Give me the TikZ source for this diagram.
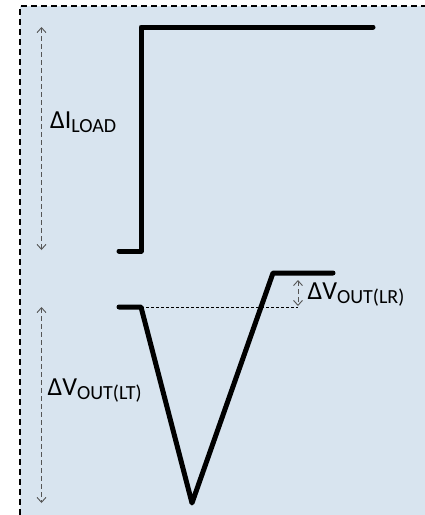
\documentclass[tikz,border=0pt]{standalone}
\usepackage{fontspec}
\setmainfont{Carlito}
\usetikzlibrary{arrows.meta}
\definecolor{panel}{RGB}{216,228,239}
\definecolor{dimgray}{RGB}{85,85,85}
\newcommand\subtxt[1]{\raisebox{-4pt}{\fontsize{20}{22}\selectfont #1}}
\begin{document}
\begin{tikzpicture}[x=1pt,y=-1pt,
  wave/.style={line width=5pt,line cap=round,line join=round},
  dimline/.style={dimgray,line width=0.9pt,dash pattern=on 5pt off 3pt,
    {Straight Barb[length=5pt,width=9pt]}-{Straight Barb[length=5pt,width=9pt]}},
  refline/.style={black,line width=0.8pt,dash pattern=on 3pt off 2pt},
  lbl/.style={inner sep=0pt,anchor=base west,font=\fontsize{26}{30}\selectfont}]
\useasboundingbox (0,0) rectangle (425,515);
\fill[panel] (20,6) rectangle (425,515);
\draw[line width=2.2pt,dash pattern=on 6pt off 4pt] (20,515) -- (20,6) -- (425,6);
% load current step
\coordinate (a1) at (119,251);
\coordinate (a2) at (141,251);
\coordinate (a3) at (141,27);
\coordinate (a4) at (373,27);
\draw[wave] (a1) -- (a2) -- (a3) -- (a4);
% output voltage
\coordinate (b1) at (119,307);
\coordinate (b2) at (141,307);
\coordinate (b3) at (192,503);
\coordinate (b4) at (273,273);
\coordinate (b5) at (333,273);
\draw[wave] (b1) -- (b2) -- (b3) -- (b4) -- (b5);
\coordinate (r) at (298,307);
\draw[refline] (b2) -- (r);
% dimension arrows
\coordinate (d1t) at (41.5,27);
\coordinate (d1b) at (41.5,250);
\coordinate (d2t) at (41.5,307);
\coordinate (d2b) at (41.5,503);
\coordinate (d3t) at (298,280);
\coordinate (d3b) at (298,306);
\draw[dimline] (d1t) -- (d1b);
\draw[dimline] (d2t) -- (d2b);
\draw[dimline] (d3t) -- (d3b);
% labels
\node[lbl] (lload) at (50,128) {ΔI\subtxt{LOAD}};
\node[lbl] (llt) at (47.5,395) {ΔV\subtxt{OUT(LT)}};
\node[lbl] (llr) at (307.5,299) {ΔV\subtxt{OUT(LR)}};
\end{tikzpicture}
\end{document}
